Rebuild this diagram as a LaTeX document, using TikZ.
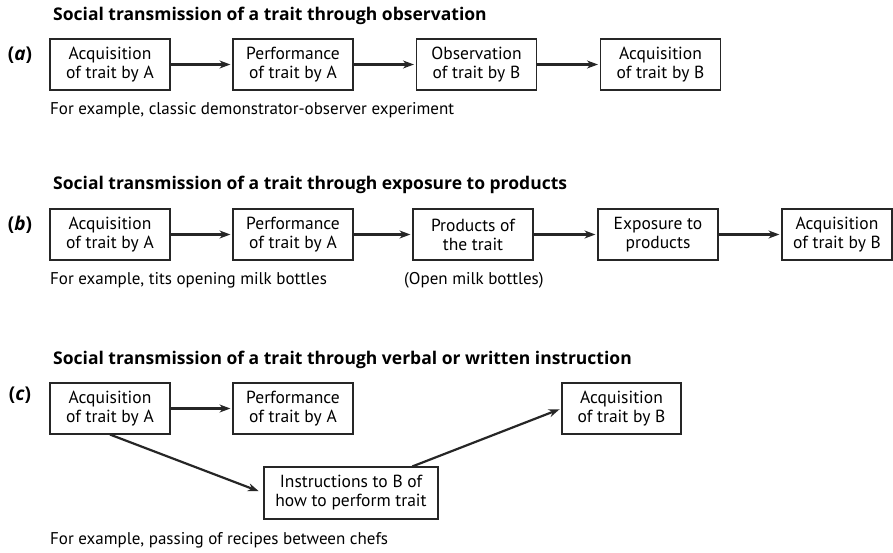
\documentclass[tikz,border=0pt]{standalone}
\usepackage{fontspec}
\setmainfont{PT Sans}
\newfontfamily\ttlfont{Open Sans}
\usetikzlibrary{calc,arrows.meta}
\tikzset{
  stepbox/.style={draw=black!85, line width=1.1pt, minimum width=120pt, minimum height=51pt, inner sep=2pt, align=center, font=\fontsize{17.5}{19}\selectfont},
  flow/.style={line width=2.2pt, draw=black!85, -{Stealth[length=11pt,width=8pt]}, shorten >=2pt},
  ttl/.style={anchor=west, inner sep=0pt, font=\ttlfont\fontsize{17.5}{19}\selectfont\bfseries},
  lbl/.style={inner sep=0pt, font=\ttlfont\fontsize{19}{19}\selectfont\bfseries},
  captxt/.style={anchor=west, inner sep=0pt, font=\fontsize{17}{18}\selectfont}
}
\begin{document}
\begin{tikzpicture}[x=1pt,y=-1pt]
\useasboundingbox (0,0) rectangle (893,553);
% Row a
\node[ttl] (ta) at (53,16) {Social transmission of a trait through observation};
\node[lbl] (la) at (20,55) {(\textit{a})};
\node[stepbox] (a1) at (110,64.5) {Acquisition\\of trait by A};
\node[stepbox] (a2) at (293,64.5) {Performance\\of trait by A};
\node[stepbox] (a3) at (476.5,64.5) {Observation\\of trait by B};
\node[stepbox] (a4) at (660.5,64.5) {Acquisition\\of trait by B};
\draw[flow] (a1) -- (a2);
\draw[flow] (a2) -- (a3);
\draw[flow] (a3) -- (a4);
\node[captxt] (ca) at (50,110) {For example, classic demonstrator-observer experiment};
% Row b
\node[ttl] (tb) at (53,185) {Social transmission of a trait through exposure to products};
\node[lbl] (lb) at (20,225) {(\textit{b})};
\node[stepbox] (b1) at (110,234.5) {Acquisition\\of trait by A};
\node[stepbox] (b2) at (293,234.5) {Performance\\of trait by A};
\node[stepbox] (b3) at (473,234.5) {Products of\\the trait};
\node[stepbox] (b4) at (658,234.5) {Exposure to\\products};
\node[stepbox, minimum width=110pt] (b5) at (837,234.5) {Acquisition\\of trait by B};
\draw[flow] (b1) -- (b2);
\draw[flow] (b2) -- (b3);
\draw[flow] (b3) -- (b4);
\draw[flow] (b4) -- (b5);
\node[captxt] (cb) at (50,280) {For example, tits opening milk bottles};
\node[captxt] (cb2) at (404,280) {(Open milk bottles)};
% Row c
\node[ttl] (tc) at (53,360) {Social transmission of a trait through verbal or written instruction};
\node[lbl] (lc) at (20,395) {(\textit{c})};
\node[stepbox] (c1) at (110,408.5) {Acquisition\\of trait by A};
\node[stepbox] (c2) at (293,408.5) {Performance\\of trait by A};
\node[stepbox, minimum width=174pt, minimum height=52pt] (c3) at (351,493) {Instructions to B of\\how to perform trait};
\node[stepbox, minimum width=119pt] (c4) at (621.5,408.5) {Acquisition\\of trait by B};
\draw[flow] (c1) -- (c2);
\draw[flow, shorten >=5pt] (c1.south) -- (c3.west);
\draw[flow] ($(c3.north west)!0.85!(c3.north east)$) -- (c4.west);
\node[captxt] (cc) at (50,540) {For example, passing of recipes between chefs};
\end{tikzpicture}
\end{document}
